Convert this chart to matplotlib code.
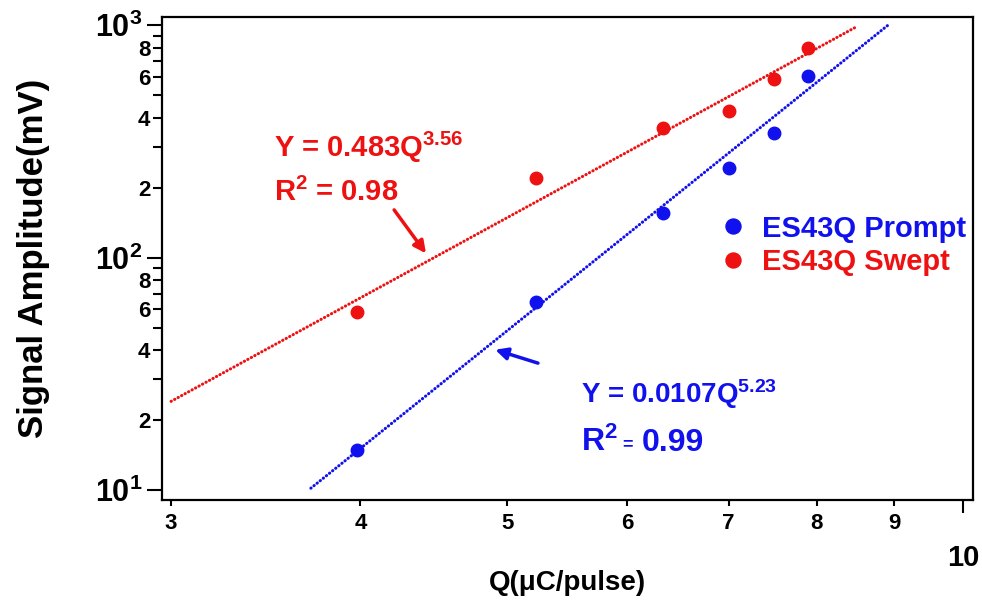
import matplotlib
matplotlib.use('Agg')
import matplotlib.pyplot as plt
from matplotlib.ticker import LogLocator, FuncFormatter
import math

plt.rcParams['font.family'] = 'Liberation Sans'
plt.rcParams['font.weight'] = 'bold'
plt.rcParams['mathtext.fontset'] = 'custom'
plt.rcParams['mathtext.rm'] = 'Liberation Sans:bold'
plt.rcParams['mathtext.it'] = 'Liberation Sans:bold'
plt.rcParams['mathtext.bf'] = 'Liberation Sans:bold'

# measured points (Q in uC/pulse, signal in mV)
q_points = [3.98, 5.22, 6.34, 7.0, 7.5, 7.9]
prompt_mv = [14.9, 64.6, 155, 242, 342, 603]
swept_mv = [58.5, 219, 360, 426, 585, 796]

# power-law fit lines (straight on log-log), end points
prompt_fit_q = [3.71, 8.93]
prompt_fit_mv = [10.2, 1006]
swept_fit_q = [3.0, 8.5]
swept_fit_mv = [24.1, 983]

red = '#ee1111'
blue = '#1111ee'

fig = plt.figure(figsize=(9.82, 6.07), dpi=100)
ax = fig.add_axes([0.165, 0.176, 0.826, 0.796])
ax.set_xscale('log')
ax.set_yscale('log')

dots = (0, (0.1, 1.2))
ax.plot(swept_fit_q, swept_fit_mv, color=red, lw=2.2, ls=dots, dash_capstyle='round')
ax.plot(prompt_fit_q, prompt_fit_mv, color=blue, lw=2.2, ls=dots, dash_capstyle='round')
ax.plot(q_points, prompt_mv, 'o', color=blue, ms=9, label='ES43Q Prompt')
ax.plot(q_points, swept_mv, 'o', color=red, ms=9, label='ES43Q Swept')

ax.set_xlim(2.959, 10.15)
ax.set_ylim(9.06, 1083)

# y axis: 10^n majors, 2/4/6/8 labelled minors
ax.yaxis.set_major_locator(LogLocator(base=10))
ax.yaxis.set_minor_locator(LogLocator(base=10, subs=range(2, 10)))
ax.yaxis.set_major_formatter(FuncFormatter(
    lambda v, p: r'$\mathbf{10^{%d}}$' % round(math.log10(v))))
def ylab_minor(v, p):
    d = int(round(v / 10 ** math.floor(math.log10(v) + 1e-9)))
    return str(d) if d in (2, 4, 6, 8) else ''
ax.yaxis.set_minor_formatter(FuncFormatter(ylab_minor))

# x axis: minors 3..9 labelled, major 10
ax.xaxis.set_major_locator(LogLocator(base=10))
ax.xaxis.set_minor_locator(LogLocator(base=10, subs=range(2, 10)))
ax.xaxis.set_major_formatter(FuncFormatter(lambda v, p: '%d' % round(v)))
ax.xaxis.set_minor_formatter(FuncFormatter(lambda v, p: '%d' % round(v)))

ax.tick_params(axis='y', which='major', direction='out', length=11, width=1.5, labelsize=22, pad=3)
ax.tick_params(axis='y', which='minor', direction='out', length=6.5, width=1.5, labelsize=16, pad=2)
ax.tick_params(axis='x', which='minor', direction='out', length=4.5, width=1.5, labelsize=16, pad=5)
ax.tick_params(axis='x', which='major', direction='out', length=9.5, width=1.5, labelsize=21, pad=22)
for s in ax.spines.values():
    s.set_linewidth(1.6)

ax.set_xlabel('Q(\u03bcC/pulse)', fontsize=20, fontweight='bold')
ax.xaxis.set_label_coords(0.5, -0.145)
ax.set_ylabel('Signal Amplitude(mV)', fontsize=25, fontweight='bold')
ax.yaxis.set_label_coords(-0.138, 0.5)

# fit annotations
ax.text(3.51, 270, r'Y = 0.483Q$^{3.56}$', color=red, fontsize=21, va='baseline')
ax.text(3.51, 176, r'R$^{2}$ = 0.98', color=red, fontsize=21, va='baseline')
ax.annotate('', xy=(4.43, 102), xytext=(4.20, 164),
            arrowprops=dict(arrowstyle='-|>', color=red, lw=2.5, mutation_scale=18))

ax.text(5.59, 23.7, r'Y = 0.0107Q$^{5.23}$', color=blue, fontsize=20, va='baseline')
ax.annotate(r'R$^{2}$', xy=(5.59, 14.7), xytext=(0, 0), textcoords='offset points',
            color=blue, fontsize=23, va='baseline')
ax.annotate('=', xy=(5.59, 14.7), xytext=(30, 1.5), textcoords='offset points',
            color=blue, fontsize=13, va='baseline')
ax.annotate('0.99', xy=(5.59, 14.7), xytext=(44, 0), textcoords='offset points',
            color=blue, fontsize=23, va='baseline')
ax.annotate('', xy=(4.89, 40.5), xytext=(5.26, 34.9),
            arrowprops=dict(arrowstyle='-|>', color=blue, lw=2.5, mutation_scale=18))

leg = ax.legend(loc='center left', bbox_to_anchor=(0.689, 0.527), frameon=False,
                fontsize=21, borderpad=0, borderaxespad=0, handlelength=0.8,
                handletextpad=0.6, labelspacing=0.2, markerscale=1.2)
for t, c in zip(leg.get_texts(), [blue, red]):
    t.set_color(c)

fig.savefig('out.png', dpi=100)
